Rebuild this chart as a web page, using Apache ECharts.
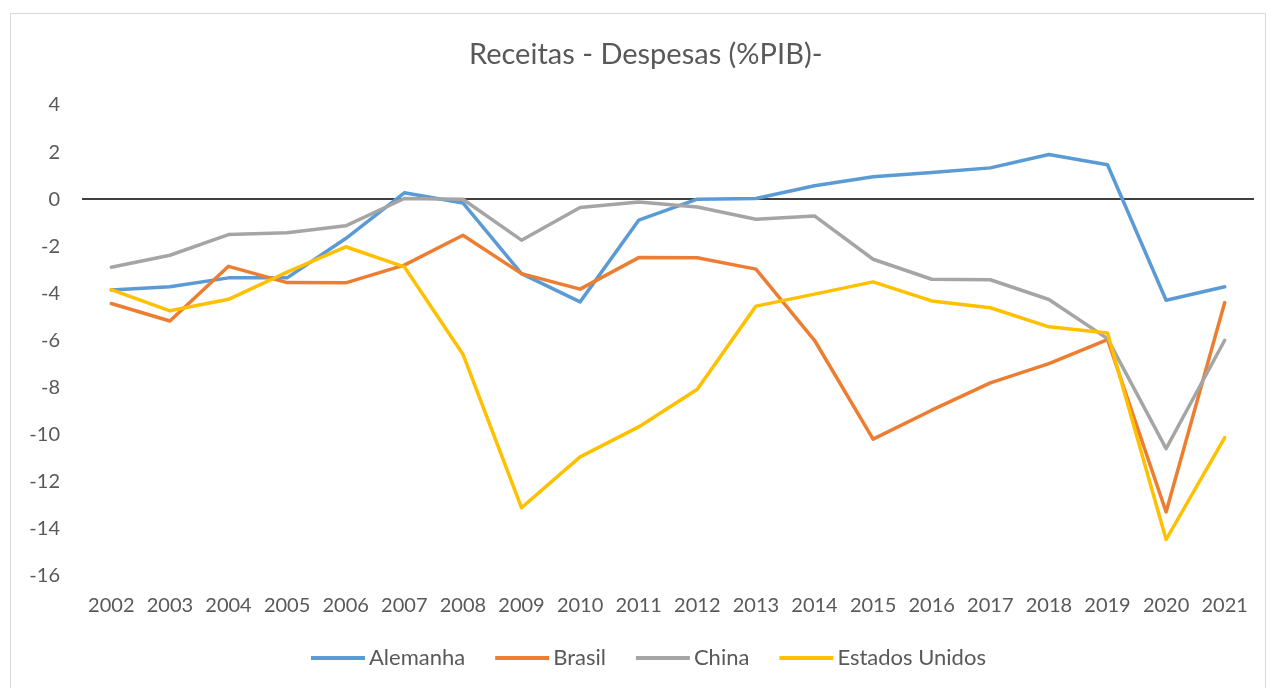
<!DOCTYPE html>
<html>
<head>
<meta charset="utf-8">
<script src="https://cdn.jsdelivr.net/npm/echarts@6/dist/echarts.min.js"></script>
<style>
html,body{margin:0;padding:0;background:#fff;}
#chart{width:1271px;height:688px;}
</style>
</head>
<body>
<div id="chart"></div>
<script>
const years = ['2002','2003','2004','2005','2006','2007','2008','2009','2010','2011','2012','2013','2014','2015','2016','2017','2018','2019','2020','2021'];
const alemanha = [-3.86,-3.72,-3.34,-3.34,-1.67,0.27,-0.16,-3.16,-4.36,-0.89,0.0,0.03,0.57,0.95,1.13,1.33,1.90,1.46,-4.29,-3.72];
const brasil = [-4.43,-5.17,-2.85,-3.54,-3.55,-2.80,-1.53,-3.16,-3.82,-2.48,-2.49,-2.97,-5.99,-10.19,-8.96,-7.80,-6.98,-5.96,-13.28,-4.39];
const china = [-2.89,-2.38,-1.50,-1.42,-1.13,0.03,0.0,-1.74,-0.35,-0.12,-0.33,-0.85,-0.71,-2.55,-3.40,-3.42,-4.26,-5.92,-10.59,-5.99];
const eua = [-3.84,-4.74,-4.25,-3.10,-2.02,-2.87,-6.58,-13.1,-10.94,-9.67,-8.07,-4.54,-4.03,-3.51,-4.32,-4.61,-5.42,-5.68,-14.45,-10.12];
const seriesNames = ['Alemanha','Brasil','China','Estados Unidos'];
const colors = ['#5B9BD5','#ED7D31','#A5A5A5','#FFC000'];

const FONT = 'Lato';
const chart = echarts.init(document.getElementById('chart'), null, {renderer:'canvas'});
const dataSets = [alemanha, brasil, china, eua];
const series = dataSets.map((d,i)=>({
  name: seriesNames[i],
  type: 'line',
  data: d,
  symbol: 'none',
  showSymbol: false,
  smooth: false,
  lineStyle: {width: 3.5, color: colors[i], cap:'round', join:'round'},
  itemStyle: {color: colors[i]},
  emphasis: {disabled: true},
  z: 3 + i
}));
series[0].markLine = {
  silent: true,
  symbol: ['none','none'],
  label: {show:false},
  lineStyle: {color:'#000', width:1.5, type:'solid'},
  data: [{yAxis: 0}],
  z: 2
};
chart.setOption({
  animation: false,
  backgroundColor: '#fff',
  color: colors,
  graphic: [{
    type:'rect', shape:{x:10.5,y:13.5,width:1255,height:680},
    style:{fill:'none', stroke:'#d9d9d9', lineWidth:1}, z:0, silent:true
  }],
  title: {
    text: 'Receitas - Despesas (%PIB)-',
    left: 469,
    top: 40,
    padding: 0,
    textStyle: {fontFamily: FONT, fontSize: 29, fontWeight: 'normal', color: '#595959'}
  },
  legend: {
    data: seriesNames,
    bottom: 14,
    left: 306,
    itemWidth: 54,
    itemHeight: 4,
    itemGap: 30,
    icon: 'rect',
    textStyle: {fontFamily: FONT, fontSize: 22, color: '#595959', padding:[0,0,0,-1]}
  },
  grid: {left: 82, right: 17, top: 105, height: 471, containLabel: false},
  xAxis: {
    type: 'category',
    data: years,
    boundaryGap: true,
    axisLine: {show: false, onZero: false},
    axisTick: {show: false},
    axisLabel: {fontFamily: FONT, fontSize: 20, color: '#595959', margin: 20, interval: 0},
    splitLine: {show: false}
  },
  yAxis: {
    type: 'value',
    min: -16,
    max: 4,
    interval: 2,
    axisLine: {show: false},
    axisTick: {show: false},
    splitLine: {show: false},
    axisLabel: {fontFamily: FONT, fontSize: 20, color: '#595959', margin: 22}
  },
  series: series
});
</script>
</body>
</html>
